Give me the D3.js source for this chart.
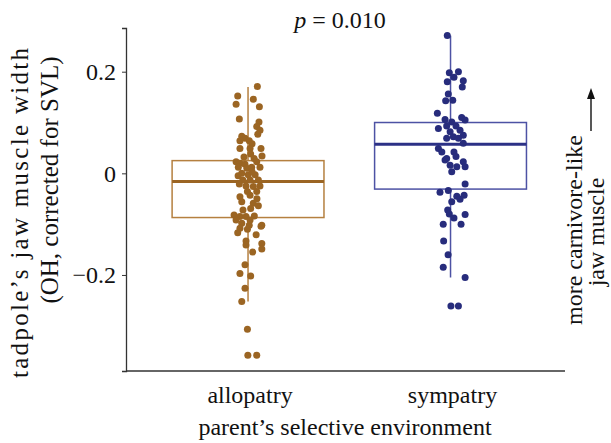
<!DOCTYPE html>
<html>
<head>
<meta charset="utf-8">
<script src="https://cdn.jsdelivr.net/npm/d3@7"></script>
<style>
  body { margin: 0; background: #fff; }
  text { font-family: "Liberation Serif", "Times New Roman", serif; fill: #111; }
</style>
</head>
<body>
<div id="chart"></div>
<script>
// groups on the x axis
const groups = ["allopatry", "sympatry"];

// box summaries: [whisker low, q1, median, q3, whisker high]
const alloBox = [-0.252, -0.087, -0.016, 0.025, 0.170];
const sympBox = [-0.205, -0.031, 0.057, 0.100, 0.271];

// jaw muscle values per tadpole
const alloValues = [
  0.171, 0.152, 0.146, 0.136, 0.131, 0.107, 0.101, 0.092, 0.085, 0.077,
  0.073, 0.069, 0.064, 0.064, 0.058, 0.049, 0.049, 0.049, 0.038, 0.029,
  0.023, 0.020, 0.018, 0.023, 0.012, 0.010, 0.012, 0.012, 0.000, -0.003,
  -0.003, -0.013, -0.013, -0.013, -0.021, -0.025, -0.026, -0.025, -0.036, -0.036,
  -0.043, -0.046, -0.056, -0.059, -0.069, -0.064, -0.082, -0.085, -0.085, -0.084,
  -0.098, -0.102, -0.102, -0.108, -0.092, -0.092, -0.104, -0.117, -0.110, -0.121,
  -0.133, -0.141, -0.138, -0.149, -0.155, -0.180, -0.197, -0.202, -0.226, -0.252,
  -0.307, -0.358, -0.358, 0.032, 0.003, -0.072, -0.050, -0.005, 0.034
];
// horizontal jitter, as a share of the distance between groups
const alloJitter = [
  0.046, -0.051, 0.026, -0.059, 0.056, -0.043, 0.054, 0.043, 0.059, 0.048,
  -0.031, -0.015, -0.040, 0.006, 0.020, -0.040, 0.010, 0.064, 0.013, 0.030,
  -0.059, -0.040, -0.015, 0.043, -0.048, -0.006, 0.018, 0.059, -0.031, 0.001,
  0.035, -0.026, 0.010, 0.051, -0.043, -0.010, 0.026, 0.059, -0.003, 0.043,
  0.010, -0.040, -0.031, 0.026, 0.013, 0.051, -0.069, -0.040, -0.010, 0.031,
  -0.031, 0.006, 0.068, -0.040, -0.059, 0.010, 0.064, -0.051, -0.003, 0.040,
  -0.010, -0.010, 0.068, 0.068, 0.023, -0.015, -0.040, 0.013, -0.015, -0.031,
  -0.003, -0.001, 0.043, -0.020, 0.020, -0.025, 0.044, -0.049, 0.069
];

const sympValues = [
  0.271, 0.198, 0.200, 0.189, 0.180, 0.182, 0.170, 0.156, 0.143, 0.144,
  0.118, 0.106, 0.110, 0.105, 0.101, 0.088, 0.093, 0.093, 0.082, 0.085,
  0.075, 0.069, 0.072, 0.069, 0.059, 0.049, 0.042, 0.042, 0.033, 0.029,
  0.023, 0.016, 0.013, 0.026, 0.003, 0.013, -0.021, -0.037, -0.034, -0.045,
  -0.043, -0.051, -0.056, -0.072, -0.080, -0.081, -0.088, -0.100, -0.100, -0.133,
  -0.160, -0.185, -0.205, -0.261, -0.261
];
const sympJitter = [
  -0.016, -0.006, 0.039, 0.017, -0.016, 0.063, 0.058, -0.011, -0.024, 0.011,
  -0.065, -0.027, 0.055, 0.072, 0.006, -0.060, -0.019, 0.027, -0.002, 0.047,
  0.063, -0.019, 0.014, 0.039, 0.063, -0.060, -0.043, 0.017, 0.027, -0.019,
  0.063, -0.002, 0.031, -0.027, 0.006, 0.072, 0.072, -0.052, -0.011, 0.031,
  0.067, 0.047, 0.006, -0.014, -0.006, 0.072, 0.017, -0.036, 0.052, -0.034,
  -0.012, -0.036, 0.072, 0.002, 0.039
];

const yTicks = [-0.2, 0, 0.2];

(function () {
  const margin = { top: 28, right: 46, bottom: 72, left: 126 };
  const width = 611 - margin.left - margin.right;
  const height = 443 - margin.top - margin.bottom;

  const colours = {
    allopatry: { dot: "#9b6523", box: "#b58040", mid: "#9b6523" },
    sympatry: { dot: "#272c7c", box: "#4d52a4", mid: "#2c3186" },
  };

  const svg = d3
    .select("#chart")
    .append("svg")
    .attr("width", 611)
    .attr("height", 443)
    .append("g")
    .attr("transform", "translate(" + margin.left + "," + margin.top + ")");

  const x = d3.scalePoint().domain(groups).range([0, width]).padding(0.584).align(0.516);
  const step = x.step();
  const boxW = step * 0.75;

  const y = d3.scaleLinear().domain([-0.389, 0.286]).range([height, 0]);

  // Y axis
  const yAxis = svg
    .append("g")
    .call(
      d3.axisLeft(y)
        .tickValues(yTicks)
        .tickSize(4)
        .tickFormat((d) => (d === 0 ? "0" : d3.format(".1f")(d).replace("-", "\u2212")))
    );
  yAxis.select(".domain").attr("stroke", "#333").attr("stroke-width", 1.3);
  yAxis.selectAll(".tick line").attr("stroke", "#333");
  yAxis.selectAll(".tick text").attr("x", -10).style("font-size", "24px").attr("fill", "#111");

  // X axis line only
  svg
    .append("line")
    .attr("x1", 0)
    .attr("x2", width)
    .attr("y1", height)
    .attr("y2", height)
    .attr("stroke", "#333")
    .attr("stroke-width", 1.3);

  svg
    .selectAll(".grp-label")
    .data(groups)
    .join("text")
    .attr("class", "grp-label")
    .attr("x", (d) => x(d) + 2)
    .attr("y", height + 32)
    .attr("text-anchor", "middle")
    .style("font-size", "24px")
    .text((d) => d);

  svg
    .append("text")
    .attr("x", 345 - margin.left)
    .attr("y", height + 64)
    .attr("text-anchor", "middle")
    .style("font-size", "24px")
    .text("parent\u2019s selective environment");

  // y title, two lines
  svg
    .append("text")
    .attr("transform", "translate(" + (28 - margin.left) + "," + (213 - margin.top) + ")rotate(-90)")
    .attr("text-anchor", "middle")
    .attr("textLength", 330)
    .attr("lengthAdjust", "spacing")
    .style("font-size", "25px")
    .text("tadpole\u2019s jaw muscle width");
  svg
    .append("text")
    .attr("transform", "translate(" + (58 - margin.left) + "," + (180 - margin.top) + ")rotate(-90)")
    .attr("text-anchor", "middle")
    .style("font-size", "25px")
    .text("(OH, corrected for SVL)");

  // p value
  const pText = svg
    .append("text")
    .attr("x", 340 - margin.left)
    .attr("y", 28 - margin.top)
    .attr("text-anchor", "middle")
    .style("font-size", "24px");
  pText.append("tspan").style("font-style", "italic").text("p");
  pText.append("tspan").text(" = 0.010");

  // right hand note with arrow
  svg
    .append("text")
    .attr("transform", "translate(" + (582 - margin.left) + "," + (230 - margin.top) + ")rotate(-90)")
    .attr("text-anchor", "middle")
    .style("font-size", "24px")
    .text("more carnivore-like");
  svg
    .append("text")
    .attr("transform", "translate(" + (604 - margin.left) + "," + (232 - margin.top) + ")rotate(-90)")
    .attr("text-anchor", "middle")
    .style("font-size", "24px")
    .text("jaw muscle");

  const ax = 591 - margin.left;
  svg
    .append("line")
    .attr("x1", ax)
    .attr("x2", ax)
    .attr("y1", 131 - margin.top)
    .attr("y2", 96 - margin.top)
    .attr("stroke", "#111")
    .attr("stroke-width", 1.4);
  svg
    .append("path")
    .attr("d", `M${ax},${88 - margin.top}L${ax - 4},${99 - margin.top}L${ax + 4},${99 - margin.top}Z`)
    .attr("fill", "#111");

  // boxes
  const boxes = [
    { group: "allopatry", s: alloBox },
    { group: "sympatry", s: sympBox },
  ];

  boxes.forEach((b) => {
    const c = colours[b.group];
    const cx = x(b.group);
    const g = svg.append("g");

    g.append("line")
      .attr("x1", cx).attr("x2", cx)
      .attr("y1", y(b.s[3])).attr("y2", y(b.s[4]))
      .attr("stroke", c.box).attr("stroke-width", 1.5);
    g.append("line")
      .attr("x1", cx).attr("x2", cx)
      .attr("y1", y(b.s[1])).attr("y2", y(b.s[0]))
      .attr("stroke", c.box).attr("stroke-width", 1.5);

    g.append("rect")
      .attr("x", cx - boxW / 2)
      .attr("y", y(b.s[3]))
      .attr("width", boxW)
      .attr("height", y(b.s[1]) - y(b.s[3]))
      .attr("fill", "none")
      .attr("stroke", c.box)
      .attr("stroke-width", 1.5);

    g.append("line")
      .attr("x1", cx - boxW / 2).attr("x2", cx + boxW / 2)
      .attr("y1", y(b.s[2])).attr("y2", y(b.s[2]))
      .attr("stroke", c.mid).attr("stroke-width", 3);
  });

  // jittered points
  const pts = alloValues
    .map((v, i) => ({ group: "allopatry", v: v, j: alloJitter[i] }))
    .concat(sympValues.map((v, i) => ({ group: "sympatry", v: v, j: sympJitter[i] })));

  svg
    .selectAll(".dot")
    .data(pts)
    .join("circle")
    .attr("class", "dot")
    .attr("cx", (d) => x(d.group) + d.j * step)
    .attr("cy", (d) => y(d.v))
    .attr("r", 3.5)
    .attr("fill", (d) => colours[d.group].dot);
})();
</script>
</body>
</html>
